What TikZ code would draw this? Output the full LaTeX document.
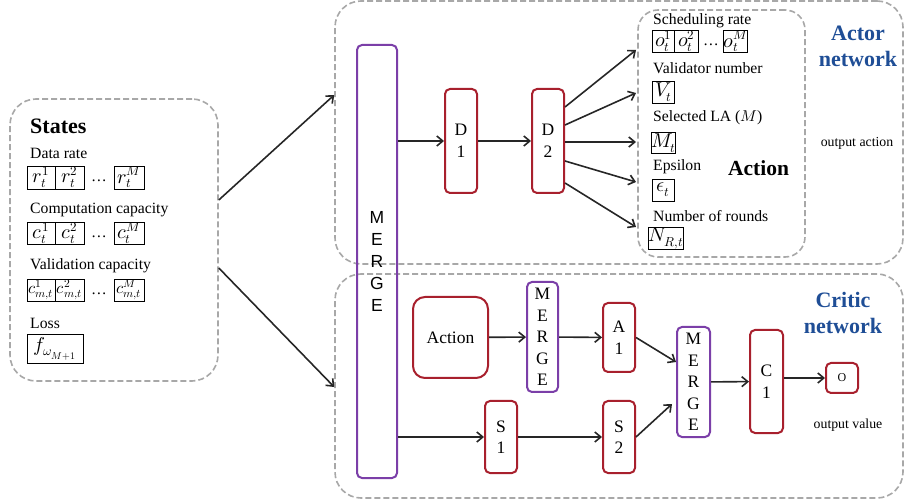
\documentclass[tikz,border=0pt]{standalone}
\usepackage{amsmath}
\usepackage{fontspec}
\usepackage{unicode-math}
\setmainfont{Liberation Serif}
\setsansfont{Liberation Sans}
\setmathfont{Latin Modern Math}
\DeclareMathSizes{20}{20}{13}{10}
\usetikzlibrary{arrows.meta,calc}
\definecolor{boxred}{HTML}{A8202D}
\definecolor{mergepurple}{HTML}{7B3FA8}
\definecolor{groupgray}{HTML}{A8A8A8}
\definecolor{netblue}{HTML}{1F4E96}
\tikzset{>={Straight Barb[length=6pt,width=10pt]}}
\tikzset{
    group/.style={draw=groupgray, dash pattern=on 6pt off 3pt, line width=1.6pt, rounded corners=26pt},
    layer/.style={draw=boxred, line width=2pt, rounded corners=5pt, align=center, inner sep=0pt,
        font=\fontsize{17.5}{21.5}\selectfont},
    mergebox/.style={draw=mergepurple, line width=2pt, rounded corners=5pt, align=center, inner sep=0pt,
        font=\fontsize{17.5}{21.5}\selectfont},
    cell/.style={draw, line width=0.9pt, inner sep=0pt, font=\fontsize{20}{22}\selectfont},
    smallcell/.style={cell, font=\fontsize{16.5}{18}\selectfont},
    itemtext/.style={anchor=west, inner sep=0pt, font=\fontsize{15.7}{18}\selectfont},
    nettitle/.style={align=center, text=netblue, font=\bfseries\fontsize{22}{26}\selectfont},
    note/.style={font=\fontsize{13.8}{16}\selectfont},
    conn/.style={->, line width=1.6pt, draw=black!85}
}

\begin{document}
\begin{tikzpicture}[x=1pt,y=-1pt]
    \useasboundingbox (0,0) rectangle (905,502);

    % dashed groups
    \node[group, minimum width=208pt, minimum height=282pt] (states) at (114,240) {};
    \node[group, minimum width=568pt, minimum height=263pt] (actor) at (619,132.5) {};
    \node[group, minimum width=568pt, minimum height=224pt] (critic) at (619,386) {};
    \node[group, rounded corners=20pt, minimum width=167pt, minimum height=247pt] (outs) at (721.5,133.5) {};

    % states
    \node[anchor=west, inner sep=0pt, font=\bfseries\fontsize{22}{24}\selectfont] (statestitle) at (30,126) {States};
    \node[itemtext] (ratetext) at (30,153) {Data rate};
    \node[cell, minimum width=28pt, minimum height=23pt] (r1) at (41,177.5) {$r_t^1$};
    \node[cell, minimum width=29pt, minimum height=23pt] (r2) at (69.5,177.5) {$r_t^2$};
    \node[itemtext, anchor=center] (rdots) at (99,181) {\dots};
    \node[cell, minimum width=30pt, minimum height=23pt] (rM) at (129,177.5) {$r_t^M$};

    \node[itemtext] (comptext) at (30,210) {Computation capacity};
    \node[cell, minimum width=28pt, minimum height=22pt] (c1) at (41,233) {$c_t^1$};
    \node[cell, minimum width=29pt, minimum height=22pt] (c2) at (69.5,233) {$c_t^2$};
    \node[itemtext, anchor=center] (cdots) at (99,237) {\dots};
    \node[cell, minimum width=30pt, minimum height=22pt] (cM) at (129,233) {$c_t^M$};

    \node[itemtext] (validtext) at (30,266) {Validation capacity};
    \node[smallcell, minimum width=28pt, minimum height=22pt] (v1) at (41,290) {$c_{m,t}^1$};
    \node[smallcell, minimum width=29pt, minimum height=22pt] (v2) at (69.5,290) {$c_{m,t}^2$};
    \node[itemtext, anchor=center] (vdots) at (99,294) {\dots};
    \node[smallcell, minimum width=30pt, minimum height=22pt] (vM) at (129,290) {$c_{m,t}^M$};

    \node[itemtext] (losstext) at (30,323) {Loss};
    \node[cell, minimum width=56pt, minimum height=29pt] (loss) at (55,348.5) {$f_{\omega_{M+1}}$};

    % actor
    \node[mergebox, minimum width=40pt, minimum height=433pt, font=\sffamily\fontsize{17.5}{22}\selectfont] (merge) at (377,261.5) {M\\E\\R\\G\\E};
    \node[layer, minimum width=32pt, minimum height=104pt] (d1) at (461,141) {D\\1};
    \node[layer, minimum width=32pt, minimum height=104pt] (d2) at (548,141) {D\\2};

    \node[itemtext] (schedtext) at (653,21) {Scheduling rate};
    \node[cell, minimum width=22pt, minimum height=22pt] (o1) at (663.5,41.5) {$o_t^1$};
    \node[cell, minimum width=24pt, minimum height=22pt] (o2) at (686.5,41.5) {$o_t^2$};
    \node[itemtext, anchor=center] (odots) at (711,45) {\dots};
    \node[cell, minimum width=23pt, minimum height=22pt] (oM) at (735.5,41.5) {$o_t^M$};
    \node[itemtext] (valtext) at (653,68) {Validator number};
    \node[cell, minimum width=22pt, minimum height=22pt] (vt) at (663.5,92.5) {$V_t$};
    \node[itemtext] (latext) at (653,118) {Selected LA ($M$)};
    \node[cell, minimum width=22pt, minimum height=21pt] (mt) at (663.5,143) {$M_t$};
    \node[itemtext] (epstext) at (653,167) {Epsilon};
    \node[font=\bfseries\fontsize{21.5}{24}\selectfont] (actiontitle) at (758.5,168) {Action};
    \node[cell, minimum width=22pt, minimum height=22pt] (et) at (663.5,190) {$\epsilon_t$};
    \node[itemtext] (roundtext) at (653,216) {Number of rounds};
    \node[cell, minimum width=27pt, minimum height=22pt] (nt) at (666,238) {$N_{R,t}$};

    \node[nettitle] (actortitle) at (858,46) {Actor\\network};
    \node[note] (outaction) at (857,143) {output action};

    \coordinate (t1) at (636,50);
    \coordinate (t2) at (636,93);
    \coordinate (t3) at (636,142);
    \coordinate (t4) at (636,182);
    \coordinate (t5) at (636,227);

    \draw[conn] (states.east |- 0,200) -- (actor.west |- 0,95);
    \draw[conn] (states.east |- 0,268) -- (critic.west |- 0,387);
    \draw[conn] (merge.east |- d1) -- (d1);
    \draw[conn] (d1) -- (d2);
    \draw[conn] ($(d2.east)+(0,-34)$) -- (t1);
    \draw[conn] ($(d2.east)+(0,-16)$) -- (t2);
    \draw[conn] ($(d2.east)+(0,1)$) -- (t3);
    \draw[conn] ($(d2.east)+(0,20)$) -- (t4);
    \draw[conn] ($(d2.east)+(0,42)$) -- (t5);

    % critic
    \node[layer, rounded corners=12pt, minimum width=75pt, minimum height=81pt] (action) at (450.5,337.5) {Action};
    \node[mergebox, minimum width=31pt, minimum height=110pt] (merge2) at (542.5,337) {M\\E\\R\\G\\E};
    \node[layer, minimum width=32pt, minimum height=69pt] (a1) at (619,337.5) {A\\1};
    \node[layer, minimum width=32pt, minimum height=72pt] (s1) at (501,437) {S\\1};
    \node[layer, minimum width=32pt, minimum height=72pt] (s2) at (619,437) {S\\2};
    \node[mergebox, minimum width=33pt, minimum height=110pt] (merge3) at (693.5,382) {M\\E\\R\\G\\E};
    \node[layer, minimum width=33pt, minimum height=103pt] (cl) at (766.5,381.5) {C\\1};
    \node[layer, minimum width=32pt, minimum height=30pt, font=\fontsize{12}{14}\selectfont] (o) at (842,378) {O};

    \node[nettitle] (critictitle) at (843,313) {Critic\\network};
    \node[note] (outvalue) at (848,425) {output value};

    \draw[conn] (merge.east |- s1) -- (s1);
    \draw[conn] (s1) -- (s2);
    \draw[conn] (action) -- (merge2);
    \draw[conn] (merge2) -- (a1);
    \draw[conn] (a1.east) -- ($(merge3.west)+(0,-20)$);
    \draw[conn] (s2.east) -- ($(merge3.west)+(-4,22)$);
    \draw[conn] (merge3) -- (cl);
    \draw[conn] (cl.east |- o) -- (o);
\end{tikzpicture}
\end{document}
